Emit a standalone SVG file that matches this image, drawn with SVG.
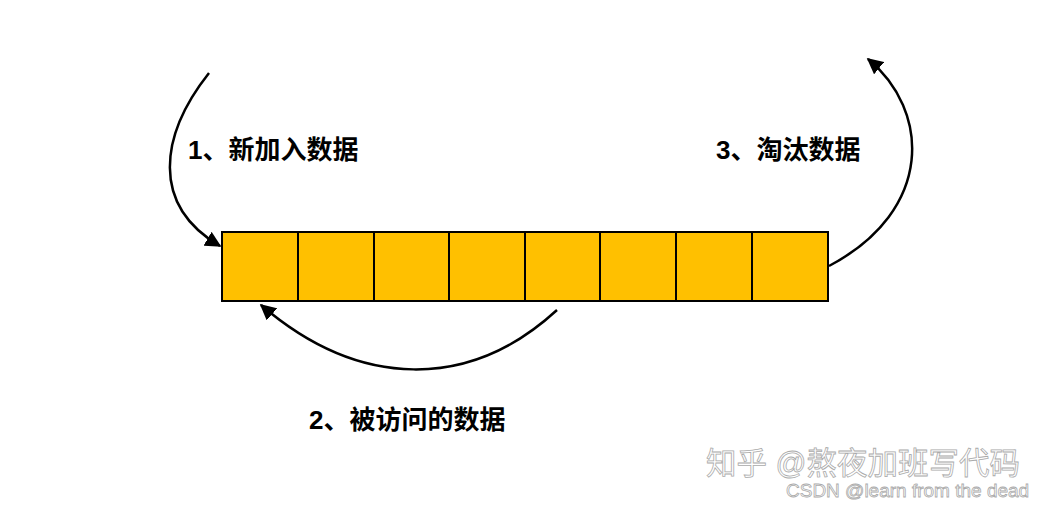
<svg xmlns="http://www.w3.org/2000/svg" width="1045" height="507" viewBox="0 0 1045 507">
<style>
.cell{fill:#FFC000;stroke:#000;stroke-width:2}
.arc{fill:none;stroke:#000;stroke-width:2.5}
.lbl{font-family:"Liberation Sans","Noto Sans CJK SC",sans-serif;font-weight:bold;font-size:26px;fill:#000}
.wm{font-family:"Liberation Sans","Noto Sans CJK SC",sans-serif;fill:#fff;stroke:#aaa;stroke-width:0.8}
</style>
<defs>
<marker id="ah2" viewBox="0 0 10 10" refX="9" refY="5" markerWidth="16" markerHeight="16" markerUnits="userSpaceOnUse" orient="auto">
<path d="M0,0 L10,5 L0,10 z" fill="#000"/>
</marker>
</defs>
<rect width="1045" height="507" fill="#fff"/>
<g id="cells">
<rect class="cell" x="222" y="232" width="76" height="69"/>
<rect class="cell" x="298" y="232" width="76" height="69"/>
<rect class="cell" x="374" y="232" width="75" height="69"/>
<rect class="cell" x="449" y="232" width="76" height="69"/>
<rect class="cell" x="525" y="232" width="75" height="69"/>
<rect class="cell" x="600" y="232" width="76" height="69"/>
<rect class="cell" x="676" y="232" width="76" height="69"/>
<rect class="cell" x="752" y="232" width="76" height="69"/>
</g>
<g id="connectors">
<path class="arc" d="M209,73 C160,135 150,205 220,246" marker-end="url(#ah2)"/>
<path class="arc" d="M829,266 C935,210 930,110 868,59" marker-end="url(#ah2)"/>
<path class="arc" d="M557,310 C470,390 360,390 261,305" marker-end="url(#ah2)"/>
</g>
<g id="labels">
<text class="lbl" x="188" y="159">1、新加入数据</text>
<text class="lbl" x="716" y="159">3、淘汰数据</text>
<text class="lbl" x="309" y="429">2、被访问的数据</text>
</g>
<g id="watermark">
<text class="wm" x="706" y="474" font-size="30.5">知乎 @熬夜加班写代码</text>
<text class="wm" x="786" y="497" font-size="19" stroke-width="0.6">CSDN @learn from the dead</text>
</g>
</svg>
